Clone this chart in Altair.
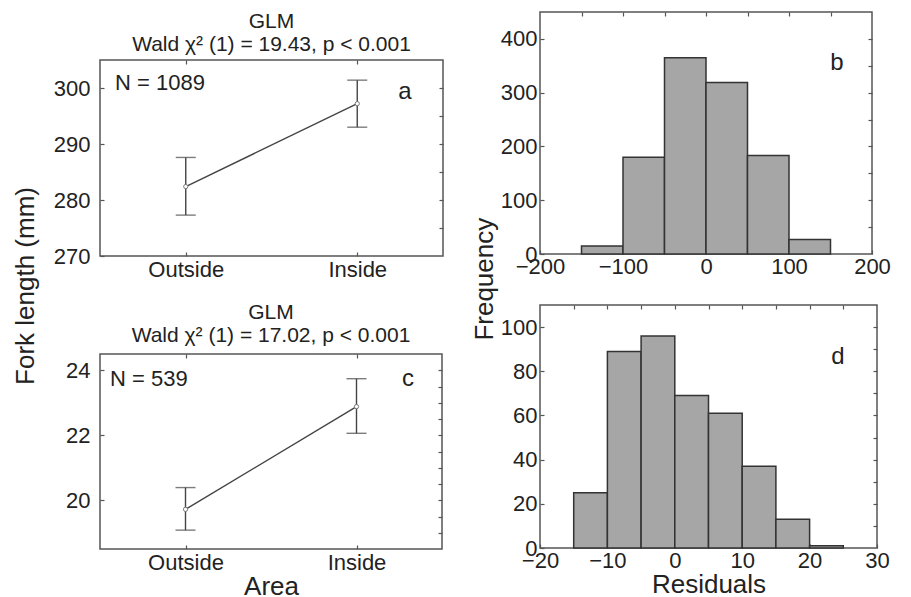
import altair as alt
import pandas as pd

FONT = "Liberation Sans"
INK = "#222222"
LINE = "#444444"
FRAME = "#555555"

# ---- data ----
areas = ["Outside", "Inside"]

fl_mean = [282.4, 297.2]
fl_low = [277.3, 293.0]
fl_high = [287.6, 301.4]

w_mean = [19.72, 22.88]
w_low = [19.08, 22.06]
w_high = [20.39, 23.74]

b_start = [-150, -100, -50, 0, 50, 100]
b_end = [-100, -50, 0, 50, 100, 150]
b_count = [15, 180, 365, 319, 183, 27]

d_start = [-15, -10, -5, 0, 5, 10, 15, 20]
d_end = [-10, -5, 0, 5, 10, 15, 20, 25]
d_count = [25, 89, 96, 69, 61, 37, 13, 1]

title_a = ["GLM", "Wald \u03c7\u00b2 (1) = 19.43, p < 0.001"]
title_c = ["GLM", "Wald \u03c7\u00b2 (1) = 17.02, p < 0.001"]


def inner_axis(orient, values, labels=True, title=None, pad=3, offset=-4):
    kw = dict(orient=orient, values=values, labels=labels, offset=offset, tickSize=4,
              ticks=True, tickColor=FRAME, tickWidth=1.2, domain=False, grid=False,
              labelFont=FONT, labelFontSize=22, labelColor=INK, labelPadding=pad,
              labelFlush=False, labelOverlap=False, labelAngle=0,
              titleFont=FONT, titleFontSize=26, titleFontWeight="normal", titleColor=INK,
              title=title)
    if title is not None:
        kw["titlePadding"] = 0
    return alt.Axis(**kw)


def text_layer(txt, x, y, size, align="center"):
    return alt.Chart(pd.DataFrame({"t": [txt]})).mark_text(
        font=FONT, fontSize=size, color=INK, align=align, baseline="middle").encode(
        text="t:N", x=alt.value(x), y=alt.value(y))


def glm_panel(mean, low, high, ydom, ymajor, yminor, title, n_text, letter,
              xtitle, w, h, top, title_y, n_pos, l_pos):
    # view spans title area (top px) + framed plot (h px)
    H = top + h
    df = pd.DataFrame({"area": areas, "mean": mean, "low": low, "high": high})
    xs = alt.Scale(type="point", padding=0.5)
    ys = alt.Scale(domain=ydom, nice=False, zero=False, range=[H, top])
    base = alt.Chart(df)
    x_main = alt.X("area:N", sort=areas, scale=xs,
                   axis=inner_axis("bottom", areas, title=xtitle))
    y_main = alt.Y("mean:Q", scale=ys, axis=inner_axis("left", ymajor, pad=10))
    line = base.mark_line(color=LINE, strokeWidth=1.4).encode(x=x_main, y=y_main)
    x_top = alt.X("area:N", sort=areas, scale=xs,
                  axis=inner_axis("top", areas, labels=False, offset=-(top + 4)))
    y_right = alt.Y("low:Q", scale=ys, axis=inner_axis("right", yminor, labels=False))
    rule = base.mark_rule(color=LINE, strokeWidth=1.4).encode(x=x_top, y=y_right, y2="high:Q")
    xn = alt.X("area:N", sort=areas, axis=None)
    cap_lo = base.mark_tick(color=LINE, size=20, thickness=1.4, orient="horizontal").encode(
        x=xn, y=alt.Y("low:Q", axis=None))
    cap_hi = base.mark_tick(color=LINE, size=20, thickness=1.4, orient="horizontal").encode(
        x=xn, y=alt.Y("high:Q", axis=None))
    pts = base.mark_point(filled=True, fill="white", stroke="#777777", strokeWidth=1,
                          size=18, opacity=1).encode(x=xn, y=alt.Y("mean:Q", axis=None))
    frame = alt.Chart(pd.DataFrame({"f": [0]})).mark_rect(
        filled=False, stroke=FRAME, strokeWidth=1.5).encode(
        x=alt.value(0), x2=alt.value(w), y=alt.value(top), y2=alt.value(H))
    t1 = text_layer(title[0], w / 2, title_y[0], 21)
    t2 = text_layer(title[1], w / 2, title_y[1], 21)
    ntxt = text_layer(n_text, n_pos[0], top + n_pos[1], 22, align="left")
    ltxt = text_layer(letter, l_pos[0], top + l_pos[1], 24)
    return alt.layer(frame, rule, line, cap_lo, cap_hi, pts, t1, t2, ntxt, ltxt).resolve_axis(
        x="independent", y="independent").properties(
        width=w, height=H, view=alt.ViewBackground(stroke="transparent"))


def hist_panel(start, end, count, xdom, xmajor, xminor, ydom, ymajor, yminor,
               letter, xtitle, w, h, l_pos):
    df = pd.DataFrame({"s": start, "e": end, "c": count})
    xs = alt.Scale(domain=xdom, nice=False, zero=False)
    ys = alt.Scale(domain=ydom, nice=False)
    base = alt.Chart(df)
    bars = base.mark_bar(fill="#a6a6a6", stroke="#333333", strokeWidth=1.5, opacity=1).encode(
        x=alt.X("s:Q", scale=xs, axis=inner_axis("bottom", xmajor, title=xtitle, pad=2)),
        x2="e:Q",
        y=alt.Y("c:Q", scale=ys, axis=inner_axis("left", ymajor, pad=3)),
        y2=alt.datum(0),
    )
    ghost = base.mark_point(opacity=0).encode(
        x=alt.X("s:Q", scale=xs, axis=inner_axis("top", xminor, labels=False)),
        y=alt.Y("c:Q", scale=ys, axis=inner_axis("right", yminor, labels=False)),
    )
    ltxt = text_layer(letter, l_pos[0], l_pos[1], 24)
    return alt.layer(bars, ghost, ltxt).resolve_axis(
        x="independent", y="independent").properties(
        width=w, height=h, view=alt.ViewBackground(stroke=FRAME, strokeWidth=1.5))


pa = glm_panel(fl_mean, fl_low, fl_high, [270, 305], [270, 280, 290, 300],
               [275, 280, 285, 290, 295, 300], title_a, "N = 1089", "a", None,
               343, 196, 48, (10, 33), (15, 23), (305, 32))
pc = glm_panel(w_mean, w_low, w_high, [18.5, 24.5], [20, 22, 24],
               [19, 19.5, 20, 20.5, 21, 21.5, 22, 22.5, 23, 23.5, 24], title_c,
               "N = 539", "c", "Area", 342, 195, 48, (7, 30), (10, 25), (308, 25))
pb = hist_panel(b_start, b_end, b_count, [-200, 200], [-200, -100, 0, 100, 200],
                [-150, -100, -50, 0, 50, 100, 150], [0, 450], [0, 100, 200, 300, 400],
                [50, 100, 150, 200, 250, 300, 350, 400], "b", None, 332, 242, (297, 51))
pd_ = hist_panel(d_start, d_end, d_count, [-20, 30], [-20, -10, 0, 10, 20, 30],
                 [-15, -10, -5, 0, 5, 10, 15, 20, 25], [0, 110], [0, 20, 40, 60, 80, 100],
                 [10, 20, 30, 40, 50, 60, 70, 80, 90, 100], "d", "Residuals", 337, 243, (298, 52))

left = alt.vconcat(pa, pc, spacing=20).properties(
    title=alt.TitleParams("Fork length (mm)", orient="left", anchor="middle", font=FONT,
                          fontSize=26, fontWeight="normal", color=INK, offset=14, dx=19))
right = alt.vconcat(pb, pd_, spacing=25).properties(
    title=alt.TitleParams("Frequency", orient="left", anchor="middle", font=FONT,
                          fontSize=26, fontWeight="normal", color=INK, offset=2, dx=25))

chart = alt.hconcat(left, right, spacing=26).properties(
    padding={"left": 4, "top": 2, "right": 0, "bottom": 0}
).configure(background="white")

chart.save("out.html", embed_options={"renderer": "svg", "actions": False})
